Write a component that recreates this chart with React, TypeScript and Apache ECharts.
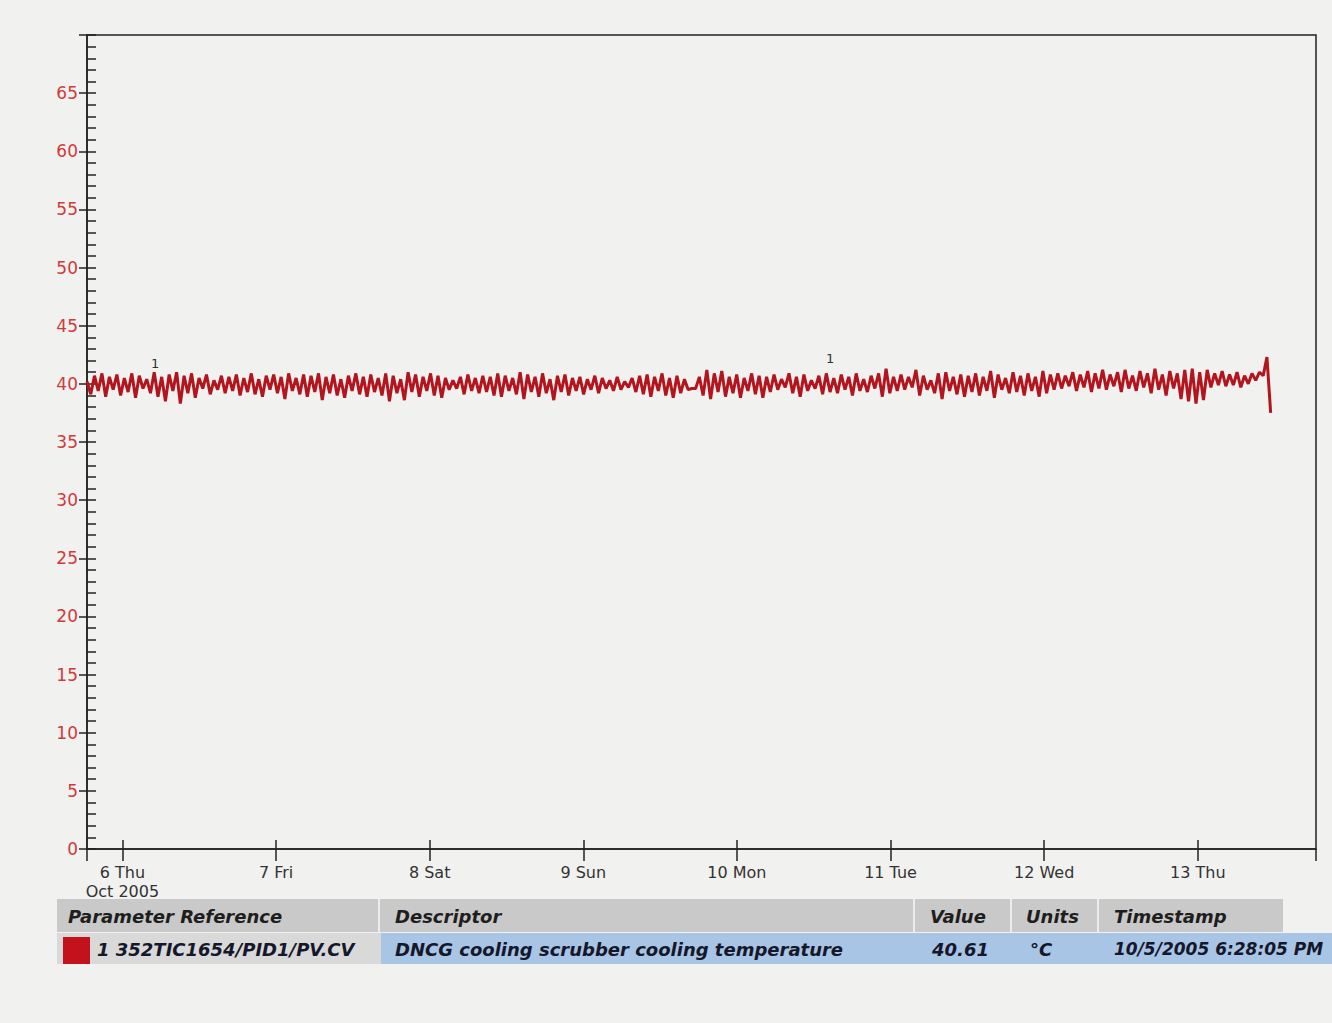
import React, { useEffect, useRef } from "react";
import * as echarts from "echarts";

// ---- data ----
const startTime = new Date(2005, 9, 5, 18, 28, 5).getTime();
const endTime = new Date(2005, 9, 13, 18, 28, 5).getTime();
const sampleStepMinutes = 35;

const temperature: number[] = [
  40.2, 39.1, 40.7, 39.4, 40.9, 38.9, 40.6, 39.5, 40.8, 39.0, 40.5, 39.3, 40.9, 38.8, 40.7, 39.6, 40.4, 39.2, 41.0, 38.9,
  40.6, 38.5, 40.8, 39.4, 41.0, 38.3, 40.7, 39.2, 40.9, 38.8, 40.5, 39.6, 40.8, 39.1, 40.3, 39.5, 40.7, 39.2, 40.6, 39.4,
  40.8, 39.0, 40.5, 39.3, 40.9, 39.1, 40.4, 38.9, 40.7, 39.5, 40.8, 39.2, 40.6, 38.7, 40.9, 39.4, 40.5, 39.1, 40.8, 38.9,
  40.7, 39.3, 40.9, 38.6, 40.6, 39.2, 40.8, 39.0, 40.4, 38.8, 40.7, 39.4, 40.9, 39.1, 40.6, 38.9, 40.8, 39.3, 40.5, 39.0,
  40.9, 38.5, 40.7, 39.2, 40.4, 38.6, 41.0, 39.3, 40.8, 38.9, 40.6, 39.4, 40.9, 39.0, 40.7, 38.8, 40.5, 39.5, 40.3, 39.6,
  40.6, 39.1, 40.8, 39.4, 40.5, 39.2, 40.7, 39.3, 40.6, 39.0, 40.9, 38.9, 40.7, 39.4, 40.5, 39.1, 41.0, 38.7, 40.8, 39.3,
  40.6, 38.9, 40.9, 39.2, 40.4, 38.6, 40.7, 39.3, 40.8, 39.0, 40.5, 39.4, 40.6, 39.1, 40.4, 39.5, 40.7, 39.2, 40.5, 39.6,
  40.3, 39.4, 40.6, 39.5, 40.2, 39.7, 40.5, 39.3, 40.7, 39.1, 40.8, 38.9, 40.6, 39.4, 40.9, 39.0, 40.5, 38.8, 40.7, 39.2,
  40.4, 39.5, 39.6, 39.6, 40.6, 39.0, 41.2, 38.7, 40.9, 39.3, 41.1, 38.9, 40.6, 39.2, 40.8, 38.8, 40.5, 39.4, 40.9, 39.1,
  40.7, 38.8, 40.6, 39.3, 40.8, 39.5, 40.4, 39.7, 40.9, 39.2, 40.6, 38.9, 40.8, 39.4, 40.3, 39.6, 40.7, 39.1, 40.9, 39.3,
  40.5, 39.2, 40.8, 39.5, 40.6, 39.0, 40.9, 39.4, 40.4, 39.3, 40.7, 39.6, 40.9, 38.9, 41.3, 39.2, 40.6, 39.4, 40.8, 39.5,
  40.6, 39.7, 41.2, 39.0, 40.7, 39.5, 40.3, 39.2, 40.9, 38.7, 41.0, 39.4, 40.6, 39.1, 40.8, 38.9, 40.7, 39.3, 40.9, 39.0,
  40.6, 39.4, 41.1, 38.8, 40.8, 39.5, 40.5, 39.2, 41.0, 39.3, 40.7, 39.0, 40.9, 39.4, 40.6, 38.9, 41.1, 39.2, 40.8, 39.5,
  40.9, 39.6, 40.7, 39.8, 41.0, 39.4, 40.8, 39.7, 41.1, 39.3, 40.9, 39.6, 41.2, 39.5, 40.8, 39.8, 41.0, 39.3, 41.2, 39.6,
  40.7, 39.4, 41.1, 39.7, 40.9, 39.2, 41.3, 39.5, 40.8, 39.0, 41.1, 39.6, 40.9, 38.7, 41.2, 38.5, 41.3, 38.3, 41.0, 38.6,
  41.2, 39.7, 40.9, 39.9, 41.1, 39.8, 40.8, 39.9, 41.0, 39.7, 40.7, 40.0, 40.9, 40.3, 41.0, 40.7, 42.3, 37.5,
];

const yMin = 0;
const yMax = 70;
const yInterval = 5;
const weekdayNames = ["Sun", "Mon", "Tue", "Wed", "Thu", "Fri", "Sat"];

const tableHeaders = ["Parameter Reference", "Descriptor", "Value", "Units", "Timestamp"];
const tableRow = [
  "1 352TIC1654/PID1/PV.CV",
  "DNCG cooling scrubber cooling temperature",
  "40.61",
  "°C",
  "10/5/2005 6:28:05 PM",
];
const traceMarkers = ["1", "1"];

// ---- layout/style ----
const FONT = "DejaVu Sans";
const GRID = { left: 87, top: 35, right: 16, bottom: 174 };
const colX = [57, 381, 916, 1013, 1100];
const headerTextX = [68, 395, 930, 1026, 1114];
const rowTextX = [97, 395, 932, 1030, 1114];
const rowFontSizes = [18, 18, 18, 18, 17];

export default function App() {
  const ref = useRef<HTMLDivElement>(null);

  useEffect(() => {
    if (!ref.current) return;
    const chart = echarts.init(ref.current, undefined, { renderer: "svg" });

    const seriesData = temperature.map((v, i) => [startTime + i * sampleStepMinutes * 60000, v]);

    const labelFormatter = (value: number) => {
      const d = new Date(value);
      if (d.getHours() !== 0 || d.getMinutes() !== 0) return "";
      const base = `${d.getDate()} ${weekdayNames[d.getDay()]}`;
      if (d.getDate() === 6) return `${base}\nOct 2005`;
      return base;
    };

    const headerY = 916;
    const rowY = 949;

    const graphics: any[] = [
      { type: "rect", shape: { x: 57, y: 899, width: 1226, height: 33 }, style: { fill: "#c9c9c9" } },
      { type: "rect", shape: { x: 57, y: 933, width: 324, height: 31 }, style: { fill: "#d9d9d9" } },
      { type: "rect", shape: { x: 381, y: 933, width: 951, height: 31 }, style: { fill: "#a9c5e6" } },
      { type: "rect", shape: { x: 63, y: 937, width: 27, height: 27 }, style: { fill: "#c3121c" } },
    ];
    colX.slice(1).forEach((x) => {
      graphics.push({
        type: "line",
        shape: { x1: x - 2, y1: 899, x2: x - 2, y2: 932 },
        style: { stroke: "#ececec", lineWidth: 2 },
      });
    });
    tableHeaders.forEach((t, i) => {
      graphics.push({
        type: "text",
        x: headerTextX[i],
        y: headerY,
        style: {
          text: t,
          fill: "#1e1e1e",
          font: `italic bold 18px "${FONT}"`,
          verticalAlign: "middle",
        },
      });
    });
    tableRow.forEach((t, i) => {
      graphics.push({
        type: "text",
        x: rowTextX[i],
        y: rowY,
        style: {
          text: t,
          fill: "#15182a",
          font: `italic bold ${rowFontSizes[i]}px "${FONT}"`,
          verticalAlign: "middle",
        },
      });
    });
    graphics.push({
      type: "text",
      x: 151,
      y: 363,
      style: { text: traceMarkers[0], fill: "#333", font: `13px "${FONT}"`, verticalAlign: "middle" },
    });
    graphics.push({
      type: "text",
      x: 826,
      y: 358,
      style: { text: traceMarkers[1], fill: "#333", font: `13px "${FONT}"`, verticalAlign: "middle" },
    });

    const axisLineStyle = { color: "#222", width: 1.5 };

    chart.setOption({
      animation: false,
      backgroundColor: "#f1f1ef",
      grid: {
        ...GRID,
        show: true,
        borderColor: "#222",
        borderWidth: 1.5,
        backgroundColor: "transparent",
        containLabel: false,
      },
      xAxis: [
        {
          type: "time",
          min: startTime,
          max: endTime,
          minInterval: 86400000,
          maxInterval: 86400000,
          axisLine: { show: true, lineStyle: axisLineStyle },
          axisTick: { show: true, inside: true, length: 9, lineStyle: { color: "#222", width: 1.5 } },
          axisLabel: {
            show: true,
            formatter: labelFormatter,
            color: "#333",
            fontSize: 16,
            fontFamily: FONT,
            margin: 14,
            lineHeight: 19,
            showMinLabel: false,
            showMaxLabel: false,
            hideOverlap: false,
          },
          splitLine: { show: false },
        },
        {
          type: "time",
          min: startTime,
          max: endTime,
          minInterval: 86400000,
          maxInterval: 86400000,
          position: "bottom",
          axisLine: { show: false },
          axisTick: { show: true, inside: false, length: 12, lineStyle: { color: "#222", width: 1.5 } },
          axisLabel: { show: false },
          splitLine: { show: false },
        },
      ],
      yAxis: [
        {
          type: "value",
          min: yMin,
          max: yMax,
          interval: yInterval,
          axisLine: { show: true, lineStyle: axisLineStyle },
          axisTick: { show: true, inside: true, length: 9, lineStyle: { color: "#222", width: 1.5 } },
          minorTick: { show: true, splitNumber: 5, length: 9, lineStyle: { color: "#222", width: 1.5 } },
          axisLabel: {
            color: "#cf3b3b",
            fontSize: 17,
            fontFamily: FONT,
            margin: 9,
            showMaxLabel: false,
          },
          splitLine: { show: false },
          minorSplitLine: { show: false },
        },
        {
          type: "value",
          min: yMin,
          max: yMax,
          interval: yInterval,
          position: "left",
          axisLine: { show: false },
          axisTick: { show: true, inside: false, length: 8, lineStyle: { color: "#222", width: 1.5 } },
          axisLabel: { show: false },
          splitLine: { show: false },
        },
      ],
      series: [
        {
          type: "line",
          xAxisIndex: 0,
          yAxisIndex: 0,
          data: seriesData,
          showSymbol: false,
          symbol: "none",
          lineStyle: { color: "#b3151f", width: 3 },
          itemStyle: { color: "#b3151f" },
        },
      ],
      graphic: graphics,
    });

    return () => chart.dispose();
  }, []);

  return (
    <div
      ref={ref}
      style={{ position: "absolute", left: 0, top: 0, width: 1332, height: 1023 }}
    />
  );
}
